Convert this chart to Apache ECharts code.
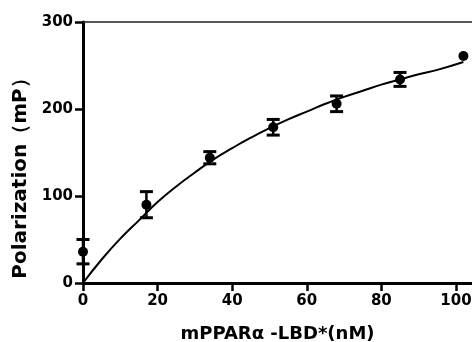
<!DOCTYPE html>
<html><head><meta charset="utf-8">
<script src="https://cdn.jsdelivr.net/npm/echarts@6/dist/echarts.min.js"></script>
<style>html,body{margin:0;padding:0;background:#fff}#c{width:472px;height:342px}</style>
</head><body><div id="c"></div>
<script>
// Measured data (mean ± error)
var concX = [0, 17, 34, 51, 68, 85, 102];
var polMean = [36, 90, 144, 179, 206, 234, 261];
var polErr = [14, 15, 7, 9, 9, 8, 0];
// Fitted curve
var fitX = [0, 5, 10, 15, 20, 25, 30, 35, 40, 45, 50, 55, 60, 65, 70, 75, 80, 85, 90, 95, 102];
var fitY = [0, 27, 51, 72, 93, 111, 127, 142, 155, 167, 178, 188, 197, 206, 214, 221, 228, 234, 240, 245, 254];
var xTicks = [0, 20, 40, 60, 80, 100];
var yTicks = [0, 100, 200, 300];

var FONT = 'DejaVu Sans';
var chart = echarts.init(document.getElementById('c'));
var fitData = fitX.map(function (x, i) { return [x, fitY[i]]; });
var ptData = concX.map(function (x, i) { return [x, polMean[i]]; });
var errData = concX.map(function (x, i) { return [x, polMean[i] - polErr[i], polMean[i] + polErr[i]]; });

chart.setOption({
  animation: false,
  backgroundColor: '#fff',
  grid: {left: 83, right: 0, top: 22, bottom: 59, outerBoundsMode: 'none'},
  xAxis: [{
    type: 'value', min: 0, max: 104.3, interval: 20,
    name: 'mPPARα -LBD*(nM)', nameLocation: 'middle', nameGap: 42,
    nameTextStyle: {fontFamily: FONT, fontWeight: 'bold', fontSize: 18, color: '#000'},
    axisLine: {show: true, onZero: false, lineStyle: {color: '#000', width: 3}},
    axisTick: {show: true, inside: false, length: 8, lineStyle: {color: '#000000', width: 2.5}},
    axisLabel: {fontFamily: FONT, fontWeight: 'bold', fontSize: 15, color: '#000', margin: 11, showMaxLabel: false},
    splitLine: {show: false}
  }, {
    type: 'value', position: 'top', min: 0, max: 104.3,
    axisLine: {show: true, onZero: false, lineStyle: {color: '#222', width: 1.5}},
    axisTick: {show: false}, axisLabel: {show: false}, splitLine: {show: false}
  }],
  yAxis: {
    type: 'value', min: 0, max: 300, interval: 100,
    name: 'Polarization（mP）', nameLocation: 'middle', nameGap: 48,
    nameTextStyle: {fontFamily: FONT, fontWeight: 'bold', fontSize: 20, color: '#000', padding: [0, 42, 0, 0]},
    axisLine: {show: true, onZero: false, lineStyle: {color: '#000', width: 3}},
    axisTick: {show: true, inside: false, length: 8, lineStyle: {color: '#000000', width: 2.5}},
    axisLabel: {fontFamily: FONT, fontWeight: 'bold', fontSize: 15, color: '#000', margin: 10},
    splitLine: {show: false}
  },
  series: [{
    type: 'line', data: fitData, smooth: true, showSymbol: false, symbol: 'none',
    lineStyle: {color: '#000', width: 2}, clip: false, z: 2
  }, {
    type: 'custom', data: errData, clip: false, z: 3,
    renderItem: function (params, api) {
      var x = api.value(0), lo = api.value(1), hi = api.value(2);
      if (hi === lo) return null;
      var pLo = api.coord([x, lo]), pHi = api.coord([x, hi]);
      var hw = 6.5;
      var st = {stroke: '#000', lineWidth: 3};
      return {type: 'group', children: [
        {type: 'line', shape: {x1: pLo[0], y1: pLo[1], x2: pHi[0], y2: pHi[1]}, style: {stroke: '#000', lineWidth: 2.5}},
        {type: 'line', shape: {x1: pLo[0] - hw, y1: pLo[1], x2: pLo[0] + hw, y2: pLo[1]}, style: st},
        {type: 'line', shape: {x1: pHi[0] - hw, y1: pHi[1], x2: pHi[0] + hw, y2: pHi[1]}, style: st}
      ]};
    }
  }, {
    type: 'scatter', data: ptData, symbol: 'circle', symbolSize: 10, clip: false, z: 4,
    itemStyle: {color: '#000', opacity: 1}
  }]
});
</script></body></html>
